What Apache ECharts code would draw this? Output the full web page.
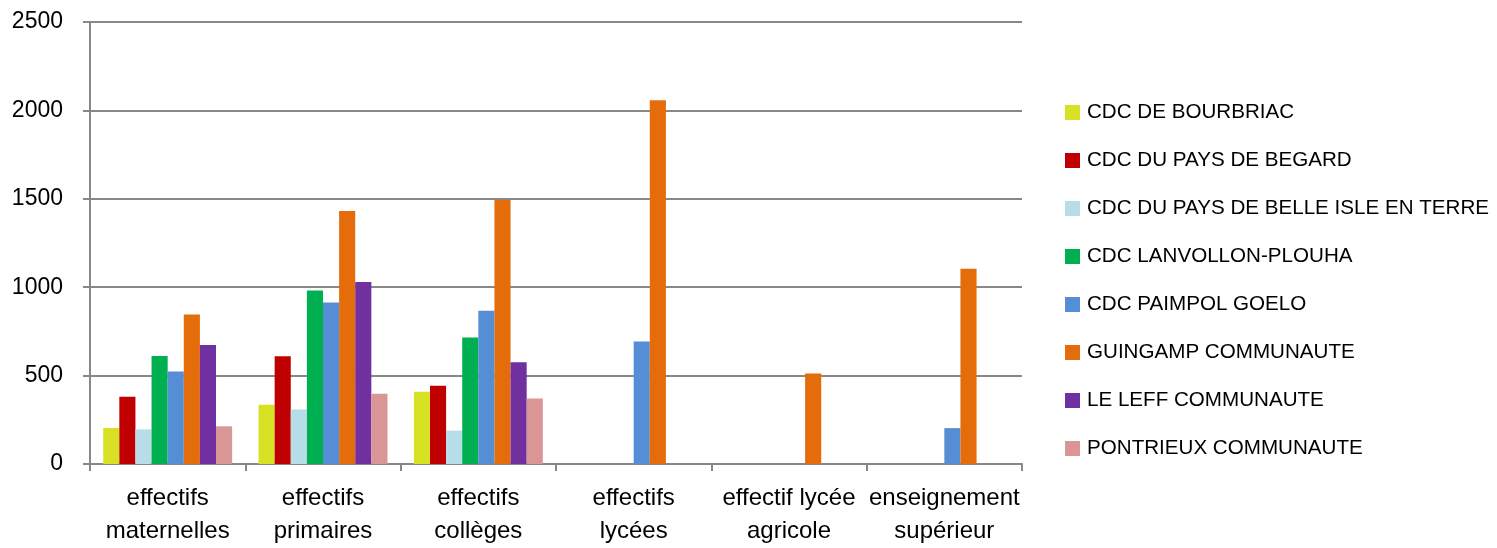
<!DOCTYPE html>
<html>
<head>
<meta charset="utf-8">
<script src="https://cdn.jsdelivr.net/npm/echarts@6/dist/echarts.min.js"></script>
<style>
html,body{margin:0;padding:0;background:#fff;}
#chart{width:1497px;height:548px;}
</style>
</head>
<body>
<div id="chart"></div>
<script>
const categories = ["effectifs\nmaternelles","effectifs\nprimaires","effectifs\ncollèges","effectifs\nlycées","effectif lycée\nagricole","enseignement\nsupérieur"];
const seriesNames = ["CDC DE BOURBRIAC","CDC DU PAYS DE BEGARD","CDC DU PAYS DE BELLE ISLE EN TERRE","CDC LANVOLLON-PLOUHA","CDC PAIMPOL GOELO","GUINGAMP COMMUNAUTE","LE LEFF COMMUNAUTE","PONTRIEUX COMMUNAUTE"];
const bourbriac = [204, 335, 409, null, null, null];
const begard = [381, 609, 443, null, null, null];
const belleIsle = [196, 308, 189, null, null, null];
const lanvollon = [611, 981, 716, null, null, null];
const paimpol = [523, 914, 867, 693, null, 203];
const guingamp = [845, 1431, 1493, 2057, 512, 1104];
const leff = [673, 1030, 576, null, null, null];
const pontrieux = [213, 398, 370, null, null, null];
const yTicks = [0, 500, 1000, 1500, 2000, 2500];

const allData = [bourbriac, begard, belleIsle, lanvollon, paimpol, guingamp, leff, pontrieux];
const colors = ["#D9E124","#C00000","#B7DEE8","#00B050","#558ED5","#E46C0A","#7030A0","#D99694"];
const FONT = "Liberation Sans";

const chart = echarts.init(document.getElementById('chart'), null, {renderer:'canvas'});
chart.setOption({
  animation: false,
  color: colors,
  textStyle: {fontFamily: FONT},
  grid: {left: 90, right: 475, top: 22, bottom: 77, containLabel: false},
  legend: {
    orient: 'vertical',
    left: 1065,
    top: 102,
    padding: 0,
    itemWidth: 15,
    itemHeight: 15,
    itemGap: 27,
    icon: 'rect',
    textStyle: {fontSize: 20.6, lineHeight: 21, color: '#000', fontFamily: FONT, padding: [0,0,0,2]},
    data: seriesNames
  },
  xAxis: {
    type: 'category',
    data: categories,
    axisLine: {lineStyle: {color: '#888', width: 2}},
    axisTick: {show: true, alignWithLabel: false, length: 7, lineStyle: {color: '#888', width: 2}},
    axisLabel: {fontSize: 24, color: '#000', lineHeight: 33, margin: 18, fontFamily: FONT, interval: 0}
  },
  yAxis: {
    type: 'value',
    min: 0, max: 2500, interval: 500,
    axisLine: {show: true, lineStyle: {color: '#888', width: 2}},
    axisTick: {show: true, length: 7, lineStyle: {color: '#888', width: 2}},
    axisLabel: {fontSize: 23, color: '#000', margin: 27, fontFamily: FONT,
      formatter: v => yTicks.includes(v) ? String(v) : ''},
    splitLine: {lineStyle: {color: '#888', width: 2}}
  },
  series: seriesNames.map((n, i) => ({
    name: n,
    type: 'bar',
    data: allData[i],
    barGap: '0%',
    barCategoryGap: '17%',
    itemStyle: {color: colors[i]}
  }))
});
</script>
</body>
</html>
